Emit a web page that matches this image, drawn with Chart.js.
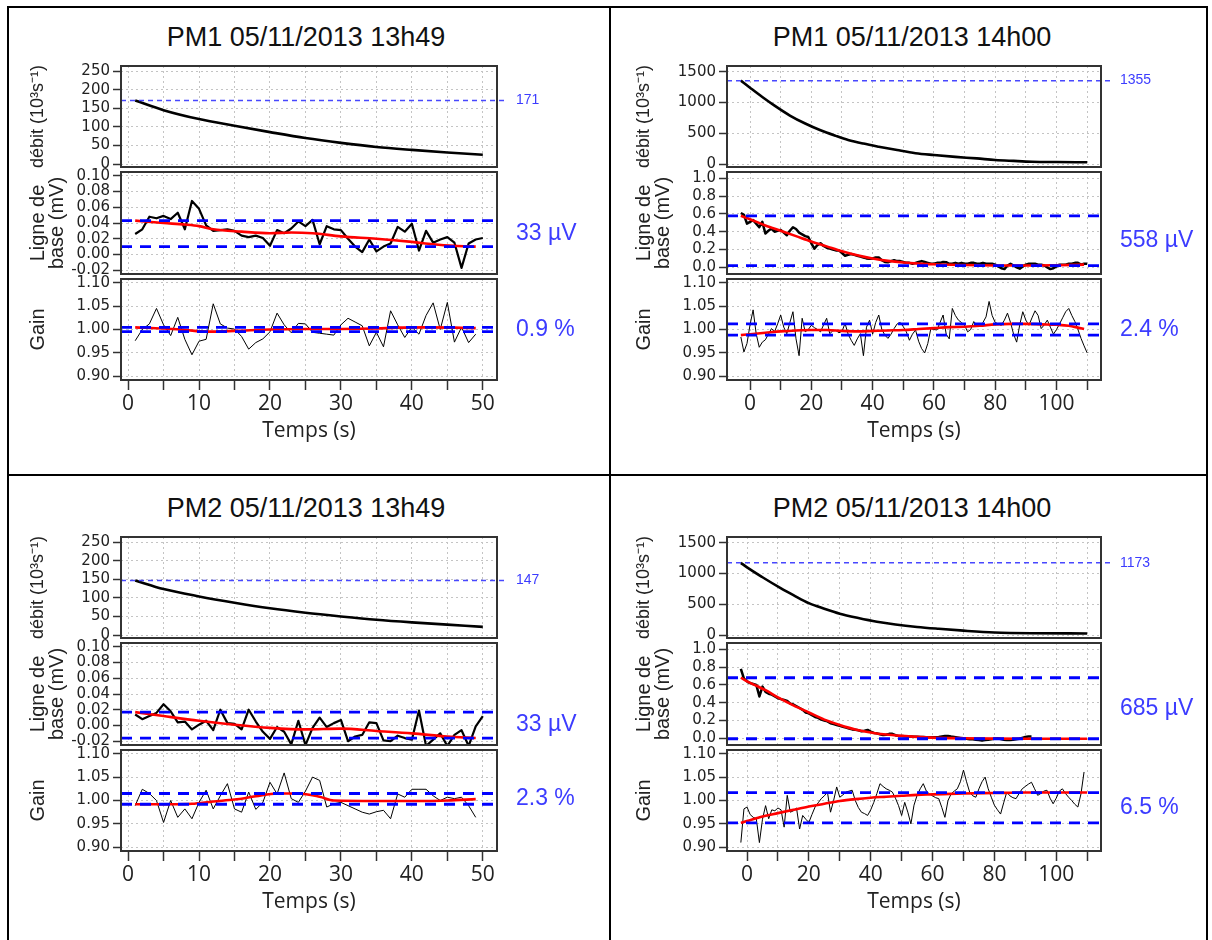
<!DOCTYPE html>
<html>
<head>
<meta charset="utf-8">
<script src="https://cdn.jsdelivr.net/npm/chart.js@4.4.0/dist/chart.umd.min.js"></script>
<style>
  body { margin: 0; background: #fff; width: 1212px; height: 940px; position: relative; overflow: hidden; }
  .rule { position: absolute; background: #000; }
  .ptitle { position: absolute; font-family: "Liberation Sans", Arial, sans-serif; font-size: 27px; line-height: 30px;
            color: #111; white-space: nowrap; transform: translateX(-50%); }
  canvas { position: absolute; }
</style>
</head>
<body>
<div class="rule" style="left:7px;top:6px;width:1201px;height:2px"></div>
<div class="rule" style="left:7px;top:6px;width:2px;height:934px"></div>
<div class="rule" style="left:1206px;top:6px;width:2px;height:934px"></div>
<div class="rule" style="left:609px;top:6px;width:2px;height:934px"></div>
<div class="rule" style="left:7px;top:474px;width:1201px;height:2px"></div>

<script>
// ---- axes / ticks ----
const XT_A = [0, 5, 10, 15, 20, 25, 30, 35, 40, 45, 50];
const XT_B = [0, 10, 20, 30, 40, 50, 60, 70, 80, 90, 100, 110];
const YT_DEBIT_A = [0, 50, 100, 150, 200, 250];
const YT_DEBIT_B = [0, 500, 1000, 1500];
const YT_BASE_A = [-0.02, 0, 0.02, 0.04, 0.06, 0.08, 0.10];
const YT_BASE_B = [0, 0.2, 0.4, 0.6, 0.8, 1.0];
const YT_GAIN = [0.90, 0.95, 1.00, 1.05, 1.10];

// ---- sample times ----
const T_A = [1,2,3,4,5,6,7,8,9,10,11,12,13,14,15,16,17,18,19,20,21,22,23,24,25,26,27,28,29,30,
  31,32,33,34,35,36,37,38,39,40,41,42,43,44,45,46,47,48,49,50];
const T_PM1_B = [-3,-2,-1,0,1,2,3,4,5,6,7,8,9,10,11,12,13,14,15,16,17,18,19,20,21,22,23,24,25,26,27,28,29,
  30,31,32,33,34,35,36,37,38,39,40,41,42,43,44,45,46,47,48,49,50,51,52,53,54,55,56,57,58,59,60,61,62,63,
  64,65,66,67,68,69,70,71,72,73,74,75,76,77,78,79,80,81,82,83,84,85,86,87,88,89,90,91,92,93,94,95,96,97,
  98,99,100,101,102,103,104,105,106,107,108,109,110];
const T_PM2_B = [-2,-1,0,1,2,3,4,5,6,7,8,9,10,11,12,13,14,15,16,17,18,19,20,21,22,23,24,25,26,27,28,29,
  30,31,32,33,34,35,36,37,38,39,40,41,42,43,44,45,46,47,48,49,50,51,52,53,54,55,56,57,58,59,60,61,62,63,
  64,65,66,67,68,69,70,71,72,73,74,75,76,77,78,79,80,81,82,83,84,85,86,87,88,89,90,91,92,93,94,95,96,97,
  98,99,100,101,102,103,104,105,106,107,108,109,110];

// ---- PM1 13h49 ----
const pm1aDebitT = [1, 5, 10, 15, 20, 25, 30, 35, 40, 45, 50];
const pm1aDebit = [171, 145, 121, 103, 86, 70, 57, 46, 38, 31, 25];
const pm1aBase = [0.026,0.032,0.048,0.046,0.049,0.045,0.053,0.032,0.068,0.058,0.037,0.030,0.031,0.032,0.030,
  0.024,0.022,0.024,0.021,0.011,0.031,0.027,0.033,0.042,0.036,0.044,0.013,0.036,0.032,0.031,0.020,0.010,0.003,
  0.019,0.004,0.010,0.014,0.035,0.029,0.039,0.005,0.030,0.015,0.019,0.022,0.015,-0.017,0.014,0.019,0.021];
const pm1aBaseFitT = [1, 5, 8, 10, 12, 16, 20, 23, 26, 30, 35, 40, 43, 46, 49];
const pm1aBaseFit = [0.043, 0.040, 0.038, 0.036, 0.032, 0.029, 0.027, 0.028, 0.027, 0.023, 0.020, 0.016, 0.013, 0.011, 0.010];
const pm1aGain = [0.976,1.000,1.012,1.045,1.010,0.987,1.026,0.979,0.946,0.975,0.979,1.055,1.012,1.003,1.001,
  0.985,0.958,0.972,0.980,0.995,1.035,1.010,0.993,1.013,1.012,0.994,0.992,0.990,0.988,1.010,1.024,1.016,1.008,
  0.965,0.994,0.963,1.040,1.010,0.983,1.005,0.990,1.030,1.057,1.000,1.058,0.973,1.005,0.972,0.990];
const pm1aGainFitT = [1, 5, 8, 11, 15, 20, 25, 30, 35, 38, 42, 46, 49];
const pm1aGainFit = [1.0045, 1.002, 0.999, 0.9955, 0.997, 1.000, 1.001, 1.001, 1.002, 1.004, 1.0045, 1.004, 1.003];

// ---- PM1 14h00 ----
const pm1bDebitT = [-3, 0, 4, 8, 13, 18, 23, 28, 32, 37, 42, 48, 54, 60, 67, 74, 80, 86, 92, 100, 110];
const pm1bDebit = [1355, 1240, 1090, 950, 790, 660, 550, 460, 395, 335, 285, 230, 180, 150, 120, 95, 70, 55, 42, 36, 32];
const pm1bBase = [0.61,0.59,0.49,0.51,0.53,0.49,0.45,0.51,0.38,0.41,0.435,0.40,0.41,0.42,0.39,0.36,0.41,0.45,
  0.43,0.39,0.37,0.35,0.34,0.27,0.21,0.25,0.27,0.24,0.22,0.21,0.20,0.19,0.19,0.16,0.13,0.14,0.15,0.14,0.13,
  0.12,0.11,0.10,0.095,0.10,0.11,0.11,0.08,0.06,0.057,0.07,0.08,0.07,0.07,0.06,0.05,0.05,0.04,0.05,0.06,
  0.07,0.06,0.05,0.04,0.04,0.05,0.05,0.06,0.057,0.04,0.04,0.05,0.04,0.05,0.04,0.04,0.05,0.05,0.04,0.04,
  0.05,0.04,0.04,0.04,0.03,0.01,-0.01,-0.02,0.02,0.04,0.02,0.0,-0.015,0.01,0.03,0.04,0.04,0.04,0.03,0.03,
  0.02,0.0,-0.02,-0.01,0.01,0.03,0.03,0.03,0.04,0.04,0.05,0.05,0.03,0.04,0.04];
const pm1bBaseFitT = [-3, 0, 5, 10, 15, 20, 25, 30, 35, 40, 45, 50, 55, 60, 70, 80, 90, 100, 109];
const pm1bBaseFit = [0.578, 0.54, 0.47, 0.41, 0.35, 0.29, 0.235, 0.18, 0.135, 0.098, 0.072, 0.054, 0.042, 0.034, 0.026, 0.021, 0.020, 0.024, 0.030];
const pm1bGain = [0.984,0.952,0.970,1.010,1.042,0.991,0.962,0.973,0.978,0.990,1.002,0.995,1.012,1.031,1.005,
  0.991,1.015,1.038,0.980,0.944,1.024,0.995,1.000,1.009,1.004,1.000,0.995,1.010,1.024,0.991,0.997,0.998,0.993,
  0.996,1.013,0.990,0.977,0.966,0.980,0.991,0.944,1.005,1.020,0.990,1.015,1.031,1.000,0.988,0.981,0.990,1.002,
  1.012,1.015,1.006,0.995,0.977,0.990,0.999,0.975,0.959,0.950,0.970,1.002,1.000,0.999,1.015,1.031,0.990,0.980,
  1.045,1.030,1.020,1.015,1.009,0.995,1.000,1.017,1.010,1.006,1.015,1.027,1.060,1.030,1.015,1.012,1.009,1.020,
  1.035,1.015,0.990,0.973,1.010,1.038,1.020,1.009,1.025,1.040,1.030,1.002,1.010,1.020,1.005,0.990,1.000,1.012,
  1.025,1.038,1.045,1.030,1.017,1.000,0.981,0.965,0.950];
const pm1bGainFitT = [-3, 0, 5, 10, 15, 20, 25, 30, 35, 40, 45, 50, 55, 60, 65, 70, 75, 80, 85, 90, 95, 100, 104, 107, 109];
const pm1bGainFit = [0.988, 0.990, 0.993, 0.996, 0.998, 0.999, 0.999, 0.997, 0.996, 0.997, 0.998, 0.999, 1.001,
  1.003, 1.005, 1.006, 1.008, 1.011, 1.012, 1.012, 1.011, 1.010, 1.008, 1.004, 1.001];

// ---- PM2 13h49 ----
const pm2aDebitT = [1, 5, 10, 15, 20, 25, 30, 35, 40, 45, 50];
const pm2aDebit = [147, 124, 104, 87, 72, 60, 50, 41, 34, 28, 22];
const pm2aBase = [0.014,0.008,0.012,0.016,0.027,0.018,0.004,0.005,-0.005,0.001,0.006,-0.006,0.020,0.003,0.002,
  -0.005,0.020,0.005,-0.008,-0.017,-0.002,-0.008,-0.024,0.006,-0.025,-0.003,0.010,-0.002,0.003,0.007,-0.020,
  -0.014,-0.012,0.004,0.003,-0.019,-0.020,-0.013,-0.016,-0.018,0.019,-0.026,-0.018,-0.010,-0.026,-0.012,-0.006,
  -0.026,-0.001,0.012];
const pm2aBaseFitT = [1, 5, 10, 15, 20, 25, 30, 35, 40, 45, 49];
const pm2aBaseFit = [0.017, 0.012, 0.006, 0.001, -0.003, -0.005, -0.004, -0.007, -0.010, -0.014, -0.016];
const pm2aGain = [0.989,1.024,1.015,1.000,0.953,1.000,0.964,0.982,0.961,0.996,1.022,0.982,1.010,1.036,0.982,
  0.975,1.018,0.981,0.996,1.039,1.014,1.059,1.004,0.996,1.020,1.050,1.043,0.986,0.993,0.996,0.989,0.982,0.975,
  0.971,0.976,0.979,0.961,1.014,1.007,1.024,1.024,1.024,1.010,1.000,1.007,1.004,1.007,0.989,0.964];
const pm2aGainFitT = [1, 6, 9, 12, 15, 18, 21, 24, 27, 29, 35, 42, 45, 49];
const pm2aGainFit = [0.992, 0.992, 0.993, 0.998, 1.002, 1.009, 1.015, 1.015, 1.008, 1.000, 0.999, 0.999, 1.000, 1.003];

// ---- PM2 14h00 ----
const pm2bDebitT = [-2, 0, 5, 11, 15, 20, 25, 30, 36, 42, 48, 55, 62, 70, 80, 92, 110];
const pm2bDebit = [1173, 1100, 940, 760, 650, 520, 430, 350, 280, 220, 175, 135, 105, 75, 45, 33, 30];
const pm2bBase = [0.78,0.67,0.64,0.62,0.61,0.60,0.47,0.58,0.52,0.50,0.49,0.47,0.45,0.44,0.43,0.42,0.39,0.38,
  0.36,0.34,0.32,0.29,0.28,0.26,0.24,0.23,0.21,0.20,0.19,0.17,0.16,0.15,0.14,0.13,0.12,0.11,0.10,0.095,
  0.09,0.08,0.085,0.094,0.075,0.06,0.056,0.045,0.037,0.04,0.05,0.05,0.035,0.026,0.025,0.022,0.02,0.02,0.019,
  0.018,0.016,0.015,0.012,0.011,0.011,0.012,0.015,0.02,0.025,0.026,0.02,0.015,0.01,0.005,0.0,-0.005,-0.01,
  -0.011,-0.015,-0.02,-0.026,-0.02,-0.015,-0.01,-0.005,0.0,-0.008,-0.015,-0.02,-0.02,-0.015,-0.01,-0.005,
  0.005,0.015,0.02,0.02];
const pm2bBaseFitT = [-2, 0, 3, 6, 10, 15, 20, 25, 30, 35, 40, 45, 50, 55, 60, 70, 80, 90, 100, 110];
const pm2bBaseFit = [0.680, 0.64, 0.59, 0.54, 0.46, 0.37, 0.29, 0.21, 0.15, 0.10, 0.066, 0.042, 0.027, 0.016,
  0.008, 0.001, -0.003, -0.005, -0.005, -0.005];
const pm2bGain = [0.910,0.982,0.986,0.970,0.964,0.961,0.910,0.960,0.989,0.961,0.980,0.978,0.984,0.980,0.943,
  1.011,0.975,0.978,0.984,0.939,0.968,0.960,0.953,0.970,0.986,0.995,1.004,1.010,1.018,0.975,1.000,1.029,1.007,
  1.012,1.018,1.020,1.022,1.000,0.985,0.975,0.972,0.968,0.980,0.996,1.015,1.036,1.030,1.025,1.022,1.018,1.005,
  0.989,0.968,0.996,0.975,0.950,0.990,1.011,1.025,1.036,1.020,1.014,1.010,1.006,1.004,0.985,0.964,1.000,1.014,
  1.020,1.025,1.040,1.065,1.040,1.018,1.010,1.007,1.025,1.040,1.050,1.025,1.007,0.990,0.980,0.971,0.995,1.018,
  1.010,1.006,1.004,1.015,1.025,1.030,1.035,1.039,1.025,1.011,1.015,1.020,1.022,1.005,0.993,1.005,1.020,1.025,
  1.015,1.007,1.000,0.992,0.986,1.014,1.061];
const pm2bGainFitT = [-2, 0, 5, 10, 15, 20, 25, 30, 35, 40, 45, 50, 55, 60, 70, 80, 90, 100, 110];
const pm2bGainFit = [0.952, 0.956, 0.966, 0.973, 0.980, 0.987, 0.993, 0.999, 1.003, 1.006, 1.008, 1.010, 1.012,
  1.013, 1.015, 1.016, 1.017, 1.017, 1.017];

// reference levels: [upper, lower] and side notes
const pm1aDebitMax = 171, pm1bDebitMax = 1355, pm2aDebitMax = 147, pm2bDebitMax = 1173;
const pm1aBaseBand = [0.043, 0.010], pm1bBaseBand = [0.578, 0.020];
const pm2aBaseBand = [0.017, -0.016], pm2bBaseBand = [0.680, -0.005];
const pm1aGainBand = [1.0045, 0.9955], pm1bGainBand = [1.012, 0.988];
const pm2aGainBand = [1.015, 0.992], pm2bGainBand = [1.017, 0.952];
const pm1aNotes = ['171', '33 µV', '0.9 %'];
const pm1bNotes = ['1355', '558 µV', '2.4 %'];
const pm2aNotes = ['147', '33 µV', '2.3 %'];
const pm2bNotes = ['1173', '685 µV', '6.5 %'];

// ---- layout ----
const BOX_X = [[121, 497], [727, 1101]];
const BOX_Y = [[66, 167], [172, 274], [279, 380]];
const ROW_DY = 471;

const panels = [
  { col: 0, row: 0, title: 'PM1 05/11/2013 13h49', tx: 306, time: T_A, xMin: -1, xMax: 52, xTicks: XT_A, xStep: 10,
    debitT: pm1aDebitT, debit: pm1aDebit, debitMax: pm1aDebitMax, base: pm1aBase, baseFitT: pm1aBaseFitT, baseFit: pm1aBaseFit,
    baseBand: pm1aBaseBand, gain: pm1aGain, gainFitT: pm1aGainFitT, gainFit: pm1aGainFit, gainBand: pm1aGainBand, notes: pm1aNotes,
    debitY: [-8, 264], debitTicks: YT_DEBIT_A, baseY: [-0.0248, 0.1048], baseTicks: YT_BASE_A, baseDigits: 2, baseWidth: 2.2 },
  { col: 1, row: 0, title: 'PM1 05/11/2013 14h00', tx: 912, time: T_PM1_B, xMin: -7.52, xMax: 114.52, xTicks: XT_B, xStep: 20,
    debitT: pm1bDebitT, debit: pm1bDebit, debitMax: pm1bDebitMax, base: pm1bBase, baseFitT: pm1bBaseFitT, baseFit: pm1bBaseFit,
    baseBand: pm1bBaseBand, gain: pm1bGain, gainFitT: pm1bGainFitT, gainFit: pm1bGainFit, gainBand: pm1bGainBand, notes: pm1bNotes,
    debitY: [-44, 1592], debitTicks: YT_DEBIT_B, baseY: [-0.075, 1.07], baseTicks: YT_BASE_B, baseDigits: 1, baseWidth: 2.5 },
  { col: 0, row: 1, title: 'PM2 05/11/2013 13h49', tx: 306, time: T_A, xMin: -1, xMax: 52, xTicks: XT_A, xStep: 10,
    debitT: pm2aDebitT, debit: pm2aDebit, debitMax: pm2aDebitMax, base: pm2aBase, baseFitT: pm2aBaseFitT, baseFit: pm2aBaseFit,
    baseBand: pm2aBaseBand, gain: pm2aGain, gainFitT: pm2aGainFitT, gainFit: pm2aGainFit, gainBand: pm2aGainBand, notes: pm2aNotes,
    debitY: [-8, 264], debitTicks: YT_DEBIT_A, baseY: [-0.0248, 0.1048], baseTicks: YT_BASE_A, baseDigits: 2, baseWidth: 2.2 },
  { col: 1, row: 1, title: 'PM2 05/11/2013 14h00', tx: 912, time: T_PM2_B, xMin: -6.48, xMax: 114.48, xTicks: XT_B, xStep: 20,
    debitT: pm2bDebitT, debit: pm2bDebit, debitMax: pm2bDebitMax, base: pm2bBase, baseFitT: pm2bBaseFitT, baseFit: pm2bBaseFit,
    baseBand: pm2bBaseBand, gain: pm2bGain, gainFitT: pm2bGainFitT, gainFit: pm2bGainFit, gainBand: pm2bGainBand, notes: pm2bNotes,
    debitY: [-44, 1592], debitTicks: YT_DEBIT_B, baseY: [-0.075, 1.07], baseTicks: YT_BASE_B, baseDigits: 1, baseWidth: 2.5 }
];

// ---- helpers ----
function pts(xs, ys) {
  const n = Math.min(xs.length, ys.length);
  const out = [];
  for (let i = 0; i < n; i++) out.push({ x: xs[i], y: ys[i] });
  return out;
}

const boxPlugin = {
  id: 'rbox',
  afterDraw(chart) {
    const a = chart.chartArea, ctx = chart.ctx;
    ctx.save();
    ctx.strokeStyle = '#333';
    ctx.lineWidth = 2;
    ctx.strokeRect(a.left, a.top, a.right - a.left, a.bottom - a.top);
    ctx.restore();
  }
};

const notePlugin = {
  id: 'sideNote',
  afterDraw(chart, args, opts) {
    if (!opts || !opts.text) return;
    const ctx = chart.ctx;
    const y = chart.scales.y.getPixelForValue(opts.value);
    ctx.save();
    ctx.fillStyle = opts.color;
    ctx.font = opts.css;
    ctx.textAlign = 'left';
    ctx.textBaseline = 'middle';
    ctx.fillText(opts.text, chart.chartArea.right + 19, y);
    ctx.restore();
  }
};

function bandLine(p, level) {
  return { data: [{ x: p.xMin, y: level }, { x: p.xMax, y: level }], borderColor: '#0000ff', borderWidth: 2.8,
           borderDash: [11, 8], pointRadius: 0, order: 0 };
}

function subplot(p, k) {
  const [bx0, bx1] = BOX_X[p.col];
  const by0 = BOX_Y[k][0] + p.row * ROW_DY, by1 = BOX_Y[k][1] + p.row * ROW_DY;
  const last = k === 2;
  const left = bx0 - 110, right = bx1 + 105;
  const top = by0 - 10, bottom = last ? by1 + 68 : by1 + 10;

  const c = document.createElement('canvas');
  c.width = right - left; c.height = bottom - top;
  c.style.left = left + 'px'; c.style.top = top + 'px';
  c.style.width = c.width + 'px'; c.style.height = c.height + 'px';
  document.body.appendChild(c);

  let datasets, yMin, yMax, yTicks, fmt, yTitle, titleSize, note;
  if (k === 0) {
    datasets = [
      { data: pts(p.debitT, p.debit), borderColor: '#000', borderWidth: 2.6, cubicInterpolationMode: 'monotone', pointRadius: 0, order: 2 },
      { data: [{ x: p.xMin, y: p.debitMax }, { x: p.xMax + 20, y: p.debitMax }], borderColor: '#4848ff', borderWidth: 1.5,
        borderDash: [5, 4], pointRadius: 0, order: 0, clip: { left: 0, top: 5, right: 10, bottom: 5 } }
    ];
    [yMin, yMax] = p.debitY; yTicks = p.debitTicks; fmt = v => String(v);
    yTitle = 'débit (10³s⁻¹)'; titleSize = 18;
    note = { text: p.notes[0], value: p.debitMax, css: '14px "Liberation Sans", Arial, sans-serif', color: '#3c3cff' };
  } else if (k === 1) {
    datasets = [
      { data: pts(p.time, p.base), borderColor: '#000', borderWidth: p.baseWidth, pointRadius: 0, order: 2 },
      { data: pts(p.baseFitT, p.baseFit), borderColor: '#ff0000', borderWidth: 2.6, cubicInterpolationMode: 'monotone', pointRadius: 0, order: 1 },
      bandLine(p, p.baseBand[0]), bandLine(p, p.baseBand[1])
    ];
    [yMin, yMax] = p.baseY; yTicks = p.baseTicks; fmt = v => v.toFixed(p.baseDigits);
    yTitle = ['Ligne de', 'base (mV)']; titleSize = 20;
    note = { text: p.notes[1], value: (p.baseBand[0] + p.baseBand[1]) / 2, css: '23px "Liberation Sans", Arial, sans-serif', color: '#3c3cff' };
  } else {
    datasets = [
      { data: pts(p.time, p.gain), borderColor: '#000', borderWidth: 1, pointRadius: 0, order: 2 },
      { data: pts(p.gainFitT, p.gainFit), borderColor: '#ff0000', borderWidth: 2.6, cubicInterpolationMode: 'monotone', pointRadius: 0, order: 1 },
      bandLine(p, p.gainBand[0]), bandLine(p, p.gainBand[1])
    ];
    yMin = 0.892; yMax = 1.108; yTicks = YT_GAIN; fmt = v => v.toFixed(2);
    yTitle = 'Gain'; titleSize = 20;
    note = { text: p.notes[2], value: (p.gainBand[0] + p.gainBand[1]) / 2, css: '23px "Liberation Sans", Arial, sans-serif', color: '#3c3cff' };
  }

  new Chart(c, {
    type: 'line',
    data: { datasets: datasets },
    options: {
      responsive: false,
      animation: false,
      devicePixelRatio: 1,
      layout: { padding: { left: 0, right: right - bx1, top: 10, bottom: last ? 0 : 10 } },
      plugins: { legend: { display: false }, tooltip: { enabled: false }, sideNote: note },
      elements: { line: { borderJoinStyle: 'round', borderCapStyle: 'butt' } },
      scales: {
        x: {
          type: 'linear', min: p.xMin, max: p.xMax,
          afterBuildTicks: s => { s.ticks = p.xTicks.map(v => ({ value: v })); },
          afterFit: s => { s.height = last ? 68 : 0; s.paddingLeft = 0; s.paddingRight = 0; },
          grid: { color: '#c4c4c4', lineWidth: 1, drawTicks: last, tickLength: 10, tickColor: '#333', tickWidth: 1.5 },
          border: { display: false, dash: [2, 3] },
          ticks: { display: last, autoSkip: false, maxRotation: 0, padding: 1, color: '#222',
                   font: { family: '"Open Sans", sans-serif', size: 21 },
                   callback: v => (v % p.xStep === 0 && v <= 100) ? String(v) : '' },
          title: { display: last, text: 'Temps (s)', color: '#222', font: { family: '"Open Sans", sans-serif', size: 21 },
                   padding: { top: 0, bottom: 4 } }
        },
        y: {
          type: 'linear', min: yMin, max: yMax,
          afterBuildTicks: s => { s.ticks = yTicks.map(v => ({ value: v })); },
          afterFit: s => { s.width = 110; s.paddingTop = 0; s.paddingBottom = 0; },
          grid: { color: '#c4c4c4', lineWidth: 1, drawTicks: true, tickLength: 8, tickColor: '#333', tickWidth: 1.5 },
          border: { display: false, dash: [2, 3] },
          ticks: { autoSkip: false, padding: 3, color: '#222', font: { family: '"DejaVu Sans", sans-serif', size: 15 },
                   callback: v => fmt(v) },
          title: { display: true, text: yTitle, color: '#222',
                   font: { family: '"Liberation Sans", Arial, sans-serif', size: titleSize, lineHeight: '19px' },
                   padding: { top: 17.5, bottom: 0 } }
        }
      }
    },
    plugins: [boxPlugin, notePlugin]
  });
}

panels.forEach(function(p) {
  const t = document.createElement('div');
  t.className = 'ptitle';
  t.textContent = p.title;
  t.style.left = p.tx + 'px';
  t.style.top = (22 + p.row * ROW_DY) + 'px';
  document.body.appendChild(t);
  [0, 1, 2].forEach(k => subplot(p, k));
});
</script>
</body>
</html>
